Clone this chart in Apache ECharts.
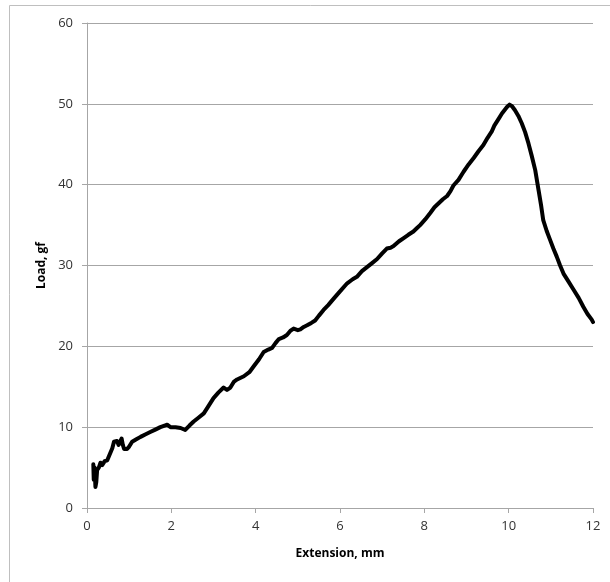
<!DOCTYPE html>
<html>
<head>
<meta charset="utf-8">
<style>
  html, body { margin: 0; padding: 0; background: #fff; }
  #chart { width: 610px; height: 582px; }
</style>
<script src="https://cdn.jsdelivr.net/npm/echarts@6/dist/echarts.min.js"></script>
</head>
<body>
<div id="chart"></div>
<script>
// Load vs extension curve
var extension = [0.15, 0.16, 0.18, 0.2, 0.22, 0.24, 0.28, 0.32, 0.36, 0.42, 0.48, 0.52, 0.56, 0.6, 0.64, 0.68, 0.71, 0.75, 0.78, 0.82, 0.85, 0.88, 0.95, 1.0, 1.07, 1.17, 1.27, 1.38, 1.5, 1.62, 1.74, 1.84, 1.9, 1.98, 2.1, 2.22, 2.33, 2.43, 2.53, 2.65, 2.77, 2.88, 3.0, 3.12, 3.24, 3.32, 3.4, 3.48, 3.56, 3.72, 3.85, 3.95, 4.08, 4.19, 4.3, 4.39, 4.47, 4.55, 4.65, 4.74, 4.82, 4.9, 5.0, 5.06, 5.14, 5.22, 5.32, 5.41, 5.5, 5.61, 5.72, 5.85, 6.0, 6.17, 6.3, 6.4, 6.52, 6.64, 6.76, 6.88, 7.0, 7.11, 7.2, 7.27, 7.4, 7.51, 7.62, 7.74, 7.82, 7.9, 8.02, 8.14, 8.24, 8.34, 8.44, 8.54, 8.62, 8.69, 8.81, 8.93, 9.05, 9.17, 9.28, 9.4, 9.5, 9.6, 9.66, 9.72, 9.78, 9.84, 9.9, 9.96, 10.02, 10.08, 10.15, 10.23, 10.31, 10.39, 10.47, 10.55, 10.63, 10.71, 10.77, 10.82, 10.9, 10.98, 11.06, 11.14, 11.22, 11.3, 11.42, 11.54, 11.66, 11.77, 11.87, 11.97, 12.0];
var load = [5.4, 3.5, 5.0, 2.6, 3.2, 4.7, 5.0, 5.6, 5.3, 5.8, 5.9, 6.4, 6.6, 7.4, 8.2, 8.0, 8.3, 7.8, 7.6, 8.6, 7.8, 7.3, 7.3, 7.6, 8.2, 8.5, 8.8, 9.1, 9.4, 9.7, 10.0, 10.2, 10.3, 10.0, 10.0, 9.9, 9.65, 10.2, 10.7, 11.2, 11.7, 12.6, 13.6, 14.3, 14.9, 14.6, 14.9, 15.6, 15.9, 16.3, 16.8, 17.5, 18.4, 19.3, 19.6, 19.8, 20.4, 20.9, 21.1, 21.4, 21.9, 22.2, 22.0, 22.1, 22.4, 22.6, 22.9, 23.2, 23.8, 24.5, 25.1, 25.9, 26.8, 27.8, 28.3, 28.6, 29.3, 29.8, 30.3, 30.8, 31.5, 32.1, 32.2, 32.4, 33.0, 33.4, 33.8, 34.2, 34.6, 35.0, 35.7, 36.5, 37.2, 37.7, 38.2, 38.6, 39.2, 39.9, 40.6, 41.6, 42.5, 43.3, 44.1, 44.9, 45.8, 46.6, 47.3, 47.8, 48.3, 48.8, 49.2, 49.6, 49.9, 49.7, 49.2, 48.5, 47.6, 46.5, 45.1, 43.5, 41.8, 39.3, 37.4, 35.6, 34.3, 33.2, 32.1, 31.1, 30.0, 29.0, 28.0, 27.0, 26.0, 24.9, 24.0, 23.3, 23.0];

var xName = 'Extension, mm';
var yName = 'Load, gf';

var points = extension.map(function(x, i) { return [x, load[i]]; });

var font = '"Open Sans", "Liberation Sans", sans-serif';
var axisGray = '#a6a6a6';
var labelColor = '#333';

var chart = echarts.init(document.getElementById('chart'), null, { renderer: 'canvas' });
chart.setOption({
  animation: false,
  backgroundColor: '#fff',
  graphic: [{
    type: 'rect',
    shape: { x: 9.5, y: 5.5, width: 800, height: 800 },
    style: { fill: 'none', stroke: '#bfbfbf', lineWidth: 1 },
    silent: true
  }],
  grid: { left: 87, right: 17, top: 23, bottom: 74 },
  xAxis: {
    type: 'value',
    min: 0,
    max: 12,
    interval: 2,
    name: xName,
    nameLocation: 'middle',
    nameGap: 40,
    nameTextStyle: { fontFamily: font, fontWeight: 'bold', fontSize: 12, color: '#000' },
    axisLine: { show: true, lineStyle: { color: axisGray, width: 1 } },
    axisTick: { show: true, length: 5, lineStyle: { color: axisGray } },
    axisLabel: { color: labelColor, fontFamily: font, fontSize: 13, margin: 12 },
    splitLine: { show: false }
  },
  yAxis: {
    type: 'value',
    min: 0,
    max: 60,
    interval: 10,
    name: yName,
    nameLocation: 'middle',
    nameGap: 38,
    nameTextStyle: { fontFamily: font, fontWeight: 'bold', fontSize: 12, color: '#000' },
    axisLine: { show: true, lineStyle: { color: axisGray, width: 1 } },
    axisTick: { show: true, length: 5, lineStyle: { color: axisGray } },
    axisLabel: { color: labelColor, fontFamily: font, fontSize: 13, margin: 14 },
    splitLine: { show: true, lineStyle: { color: axisGray, width: 1 } }
  },
  series: [{
    type: 'line',
    data: points,
    showSymbol: false,
    smooth: false,
    lineStyle: { color: '#000', width: 4, join: 'round', cap: 'round' }
  }]
});
</script>
</body>
</html>
